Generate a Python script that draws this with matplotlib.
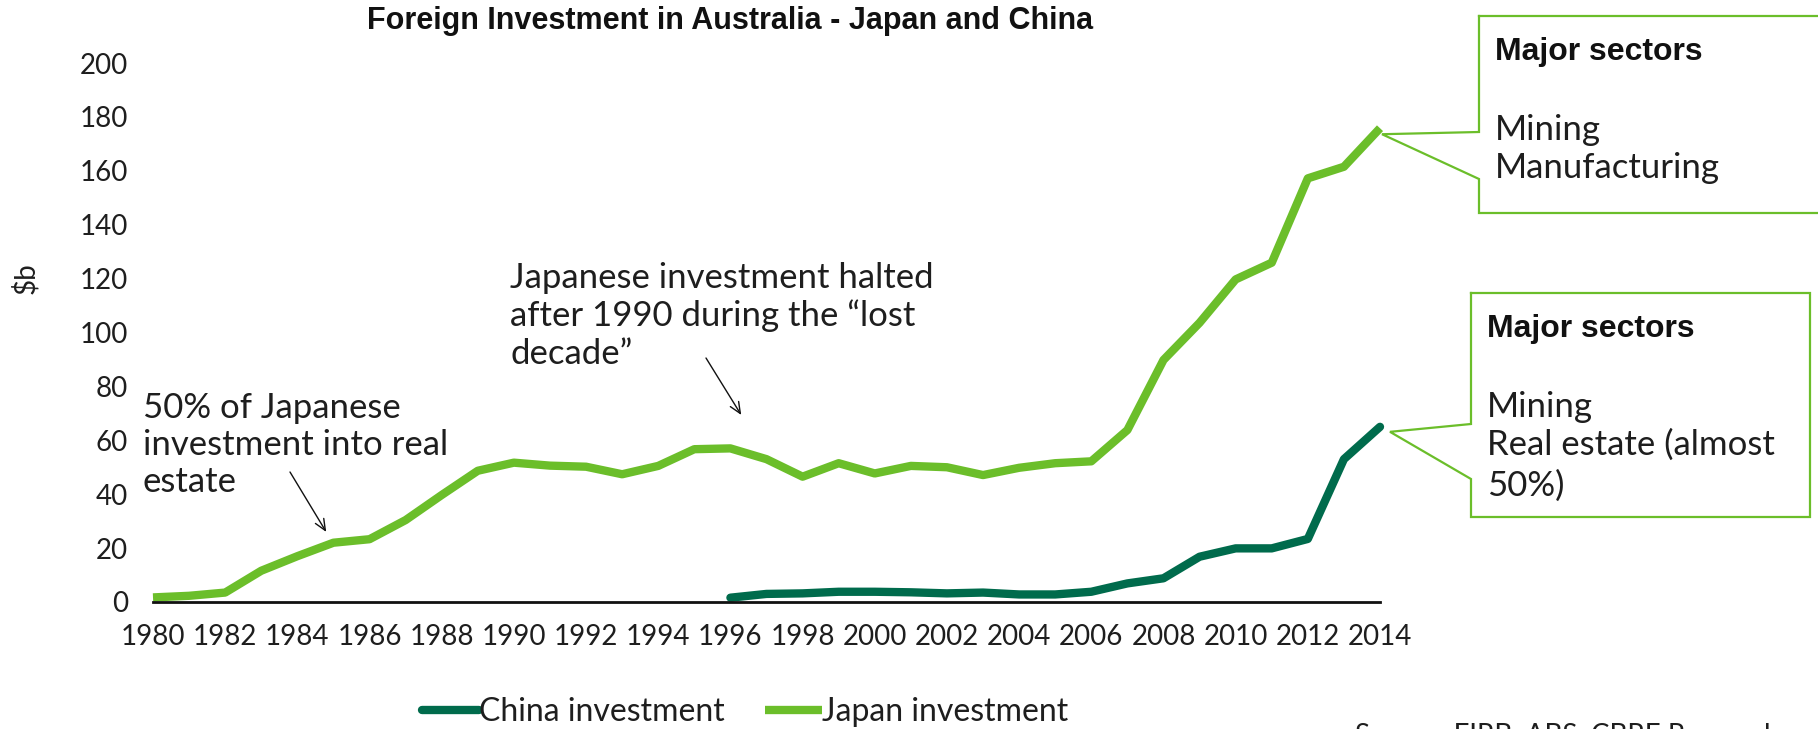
import matplotlib
matplotlib.use("Agg")
import matplotlib.pyplot as plt
from matplotlib.lines import Line2D
import numpy as np

# Foreign investment stock in Australia, $b
years = np.arange(1980, 2015)
japan = [1.7, 2.3, 3.5, 11.6, 17.0, 22.0, 23.3, 30.4, 39.7, 48.7,
         51.7, 50.6, 50.2, 47.4, 50.5, 56.7, 57.0, 53.0, 46.5, 51.5,
         47.7, 50.5, 50.0, 47.1, 49.8, 51.5, 52.2, 63.8, 89.8, 103.6,
         119.7, 125.9, 157.2, 161.5, 175.8]
china_years = np.arange(1996, 2015)
china = [1.6, 3.0, 3.2, 3.8, 3.8, 3.6, 3.2, 3.5, 2.8, 2.8,
         3.8, 6.9, 8.8, 16.8, 19.9, 19.9, 23.4, 53.0, 65.0]
xticks = np.arange(1980, 2015, 2)
yticks = np.arange(0, 201, 20)

JAPAN_GREEN = "#6bbe2a"
CHINA_GREEN = "#006b4c"
TEXT = "#1e1e1e"
BODY = ["Lato", "DejaVu Sans"]
HEAD = ["Liberation Sans Narrow", "Liberation Sans", "DejaVu Sans"]

plt.rcParams["font.family"] = BODY

W, H = 1818, 729
fig = plt.figure(figsize=(W / 100, H / 100), dpi=100)
ax = fig.add_axes([153 / W, 1 - 602 / H, (1380 - 153) / W, (602 - 63) / H])


def fpt(px, py):
    # pixel position measured from the top-left corner -> figure fraction
    return px / W, 1 - py / H


ax.plot(china_years, china, color=CHINA_GREEN, lw=6, clip_on=False,
        solid_capstyle="round", solid_joinstyle="round", label="China investment")
ax.plot(years, japan, color=JAPAN_GREEN, lw=6, clip_on=False,
        solid_capstyle="butt", solid_joinstyle="round", label="Japan investment")

ax.set_xlim(1980, 2014)
ax.set_ylim(0, 200)
ax.set_xticks(xticks)
ax.set_yticks(yticks)
ax.tick_params(length=0, labelsize=20, colors=TEXT)
ax.tick_params(axis="x", pad=16)
ax.tick_params(axis="y", pad=18)
for side in ["top", "right", "left"]:
    ax.spines[side].set_visible(False)
ax.spines["bottom"].set_linewidth(2)
ax.spines["bottom"].set_color("#111111")

fig.text(*fpt(25, 278), "$b", rotation=90, ha="center", va="center",
         fontsize=20, color=TEXT)

fig.text(*fpt(730, 21), "Foreign Investment in Australia - Japan and China",
         ha="center", va="center", fontsize=22, fontweight="bold",
         family=HEAD, color="#111111")

# text notes with arrows pointing at the Japan line
arrow = dict(arrowstyle="->,head_length=0.8,head_width=0.35",
             lw=1, color="#111111", shrinkA=0, shrinkB=0)
ax.annotate("", xy=(1984.8, 26), xytext=(290, H - 472),
            textcoords="figure pixels", arrowprops=arrow)
fig.text(*fpt(143, 445), "50% of Japanese\ninvestment into real\nestate",
         ha="left", va="center", fontsize=25, color=TEXT, linespacing=1.2)

ax.annotate("", xy=(1996.3, 69.4), xytext=(706, H - 358),
            textcoords="figure pixels", arrowprops=arrow)
fig.text(*fpt(510, 316),
         "Japanese investment halted\nafter 1990 during the \u201clost\ndecade\u201d",
         ha="left", va="center", fontsize=25, color=TEXT, linespacing=1.2)


def callout(left, top, right, bottom, y1, y2, tip, offset):
    # box with a wedge on its left side pointing at a data point
    tx, ty = ax.transData.transform(tip)
    tx, ty = tx + offset[0], ty + offset[1]
    pts = [(left, top), (right, top), (right, bottom), (left, bottom),
           (left, y2), None, (left, y1), (left, top)]
    xs, ys = [], []
    for p in pts:
        if p is None:
            xs.append(tx / W)
            ys.append(ty / H)
        else:
            fx, fy = fpt(*p)
            xs.append(fx)
            ys.append(fy)
    fig.add_artist(Line2D(xs, ys, transform=fig.transFigure,
                          color=JAPAN_GREEN, lw=1.6, solid_joinstyle="miter"))


callout(1479, 16, 1840, 213, 132, 179, (2014, japan[-1]), (2, -6))
fig.text(*fpt(1495, 52), "Major sectors", ha="left", va="center",
         fontsize=23, fontweight="bold", family=HEAD, color="#111111")
fig.text(*fpt(1495, 130), "Mining", ha="left", va="center",
         fontsize=25, color=TEXT)
fig.text(*fpt(1495, 168), "Manufacturing", ha="left", va="center",
         fontsize=25, color=TEXT)

callout(1471, 293, 1810, 517, 424, 479, (2014, china[-1]), (10, -5))
fig.text(*fpt(1487, 329), "Major sectors", ha="left", va="center",
         fontsize=23, fontweight="bold", family=HEAD, color="#111111")
fig.text(*fpt(1487, 407), "Mining", ha="left", va="center",
         fontsize=25, color=TEXT)
fig.text(*fpt(1487, 445), "Real estate (almost", ha="left", va="center",
         fontsize=25, color=TEXT)
fig.text(*fpt(1487, 486), "50%)", ha="left", va="center",
         fontsize=25, color=TEXT)

fig.legend(loc="center", bbox_to_anchor=fpt(745, 712), ncol=2, frameon=False,
           fontsize=23, handlelength=1.8, handletextpad=0.0,
           columnspacing=1.25, labelcolor=TEXT)

fig.text(*fpt(1355, 722), "Source: FIRB, ABS, CBRE Research", ha="left",
         va="top", fontsize=20, color=TEXT)

fig.savefig("out.png", dpi=100)
